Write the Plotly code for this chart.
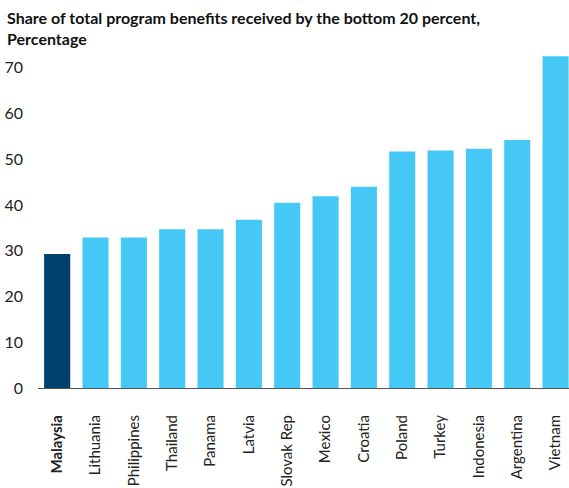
import plotly.graph_objects as go

countries = ["Malaysia", "Lithuania", "Philippines", "Thailand", "Panama", "Latvia",
             "Slovak Rep", "Mexico", "Croatia", "Poland", "Turkey", "Indonesia",
             "Argentina", "Vietnam"]
shares = [29.3, 32.9, 32.9, 34.7, 34.7, 36.8, 40.5, 41.9, 44.0, 51.7, 51.9, 52.3, 54.2, 72.5]
highlight = "Malaysia"

colors = ["#00406e" if c == highlight else "#45c8f5" for c in countries]
tick_text = [f"<b>{c}</b>" if c == highlight else c for c in countries]

fig = go.Figure(go.Bar(
    x=countries,
    y=shares,
    marker=dict(color=colors, line=dict(width=0)),
    width=0.68,
    showlegend=False,
))

fig.update_layout(
    width=569,
    height=488,
    margin=dict(l=38, r=0, t=54, b=100, autoexpand=False),
    paper_bgcolor="white",
    plot_bgcolor="white",
    font=dict(family="Lato, sans-serif", color="#222222", size=16),
    annotations=[dict(
        text="<b>Share of total program benefits received by the bottom 20 percent,<br>Percentage</b>",
        xref="paper", yref="paper",
        x=-0.062, xanchor="left",
        y=1.145, yanchor="top",
        align="left",
        showarrow=False,
        font=dict(size=16, color="#111111"),
    )],
)

fig.update_xaxes(
    tickmode="array",
    tickvals=countries,
    ticktext=tick_text,
    tickangle=-90,
    range=[-0.5, 13.35],
    showline=True,
    linecolor="#555555",
    linewidth=1,
    showgrid=False,
    ticks="",
    automargin=False,
    ticklabelstandoff=20,
    tickfont=dict(size=15),
)

fig.update_yaxes(
    range=[0, 73],
    tickvals=[0, 10, 20, 30, 40, 50, 60, 70],
    showgrid=False,
    zeroline=False,
    showline=False,
    ticks="",
    automargin=False,
    ticklabelstandoff=14,
    tickfont=dict(size=16),
)

fig.write_html("out.html", config={"displayModeBar": False},
               post_script="document.body.style.margin='0px';")
